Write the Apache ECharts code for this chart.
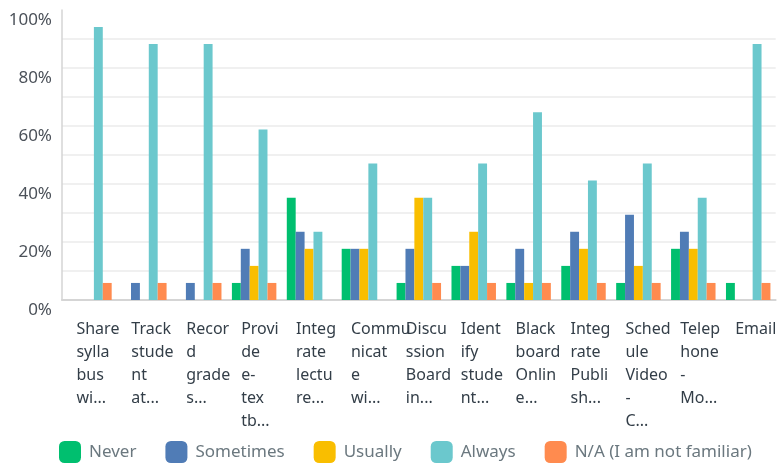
<!DOCTYPE html>
<html>
<head>
<meta charset="utf-8">
<script src="https://cdn.jsdelivr.net/npm/echarts@6/dist/echarts.min.js"></script>
<style>
    html, body { margin: 0; padding: 0; background: #fff; }
    #chart { width: 779px; height: 464px; }
</style>
</head>
<body>
<div id="chart"></div>
<script>
// wrapped question labels, as shown under the axis
const categories = [
    'Share\nsylla\nbus\nwi...',
    'Track\nstude\nnt\nat...',
    'Recor\nd\ngrade\ns...',
    'Provi\nde\ne-\ntex\ntb...',
    'Integ\nrate\nlectu\nre...',
    'Commu\nnicat\ne\nwi...',
    'Discu\nssion\nBoard\nin...',
    'Ident\nify\nstude\nnt...',
    'Black\nboard\nOnlin\ne...',
    'Integ\nrate\nPubli\nsh...',
    'Sched\nule\nVideo\n-\nC...',
    'Telep\nhone\n-\nMo...',
    'Email'
]

const seriesNames = ['Never', 'Sometimes', 'Usually', 'Always', 'N/A (I am not familiar)']
const colors = ['#00bf6f', '#507cb6', '#f9be00', '#6bc8cd', '#ff8b4f']

// percent of respondents
const never = [0, 0, 0, 5.88, 35.29, 17.65, 5.88, 11.76, 5.88, 11.76, 5.88, 17.65, 5.88]
const sometimes = [0, 5.88, 5.88, 17.65, 23.53, 17.65, 17.65, 11.76, 17.65, 23.53, 29.41, 23.53, 0]
const usually = [0, 0, 0, 11.76, 17.65, 17.65, 35.29, 23.53, 5.88, 17.65, 11.76, 17.65, 0]
const always = [94.12, 88.24, 88.24, 58.82, 23.53, 47.06, 35.29, 47.06, 64.71, 41.18, 47.06, 35.29, 88.24]
const notFamiliar = [5.88, 5.88, 5.88, 5.88, 0, 0, 5.88, 5.88, 5.88, 5.88, 5.88, 5.88, 5.88]

const yTicks = [0, 20, 40, 60, 80, 100]

const values = [never, sometimes, usually, always, notFamiliar]

const chart = echarts.init(document.getElementById('chart'))

const option = {
    animation: false,
    textStyle: {
        fontFamily: 'Noto Sans'
    },
    grid: {
        left: 62,
        top: 10,
        width: 721,
        height: 290,
        containLabel: false
    },
    legend: {
        left: 54,
        top: 436,
        itemWidth: 22,
        itemHeight: 22,
        itemGap: 29,
        icon: 'roundRect',
        data: seriesNames,
        textStyle: {
            color: '#6b787f',
            fontSize: 17,
            padding: [0, 0, 0, 3]
        }
    },
    xAxis: {
        type: 'category',
        data: categories,
        axisTick: { show: false },
        axisLine: {
            lineStyle: { color: '#d5d5d5', width: 2 }
        },
        axisLabel: {
            interval: 0,
            hideOverlap: false,
            color: '#333e48',
            fontSize: 16,
            lineHeight: 23,
            align: 'left',
            verticalAlign: 'top',
            margin: 18,
            padding: [0, 0, 0, -13]
        }
    },
    yAxis: {
        type: 'value',
        min: 0,
        max: 100,
        interval: 10,
        axisLine: {
            show: true,
            lineStyle: { color: '#d5d5d5', width: 1.5 }
        },
        axisTick: { show: false },
        axisLabel: {
            margin: 10,
            formatter: v => (yTicks.includes(v) ? '{t|' + v + '%}' : ''),
            rich: {
                // the labels sit a little below their grid line
                t: {
                    color: '#4b5159',
                    fontSize: 17,
                    fontFamily: 'Noto Sans',
                    padding: [20, 0, 0, 0]
                }
            }
        },
        splitLine: {
            showMaxLine: false,
            lineStyle: { color: '#ebebeb', width: 1.5 }
        }
    },
    series: seriesNames.map((name, i) => ({
        name,
        type: 'bar',
        data: values[i],
        barGap: '0%',
        barCategoryGap: '19%',
        itemStyle: { color: colors[i] }
    }))
}

chart.setOption(option)
</script>
</body>
</html>
